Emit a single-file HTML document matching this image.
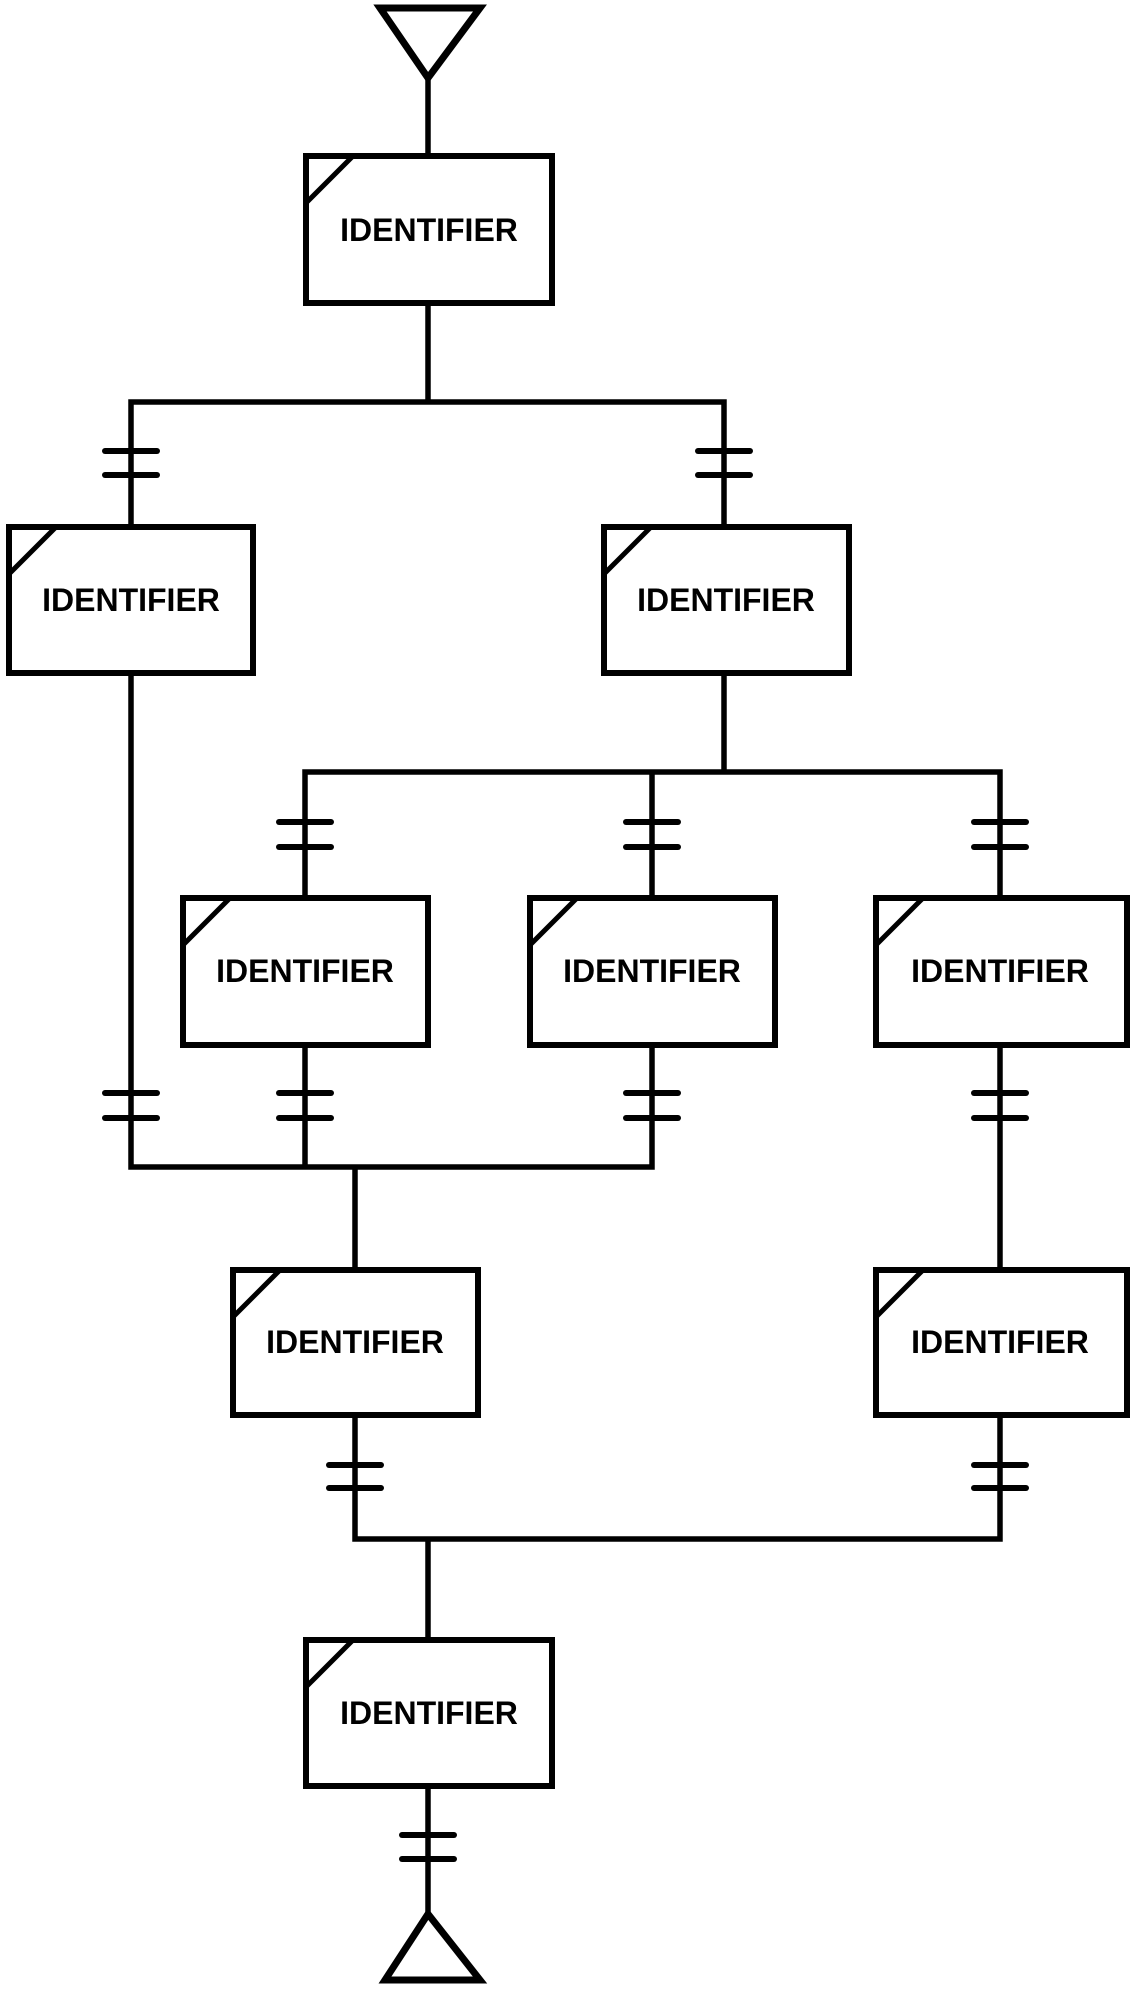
<!DOCTYPE html>
<html><head><meta charset="utf-8"><style>
html,body{margin:0;padding:0;background:#fff}
svg{display:block}
text{font-family:"Liberation Sans",Arial,sans-serif;font-weight:bold;font-size:32px;text-anchor:middle}
</style></head><body>
<svg width="1133" height="1990" viewBox="0 0 1133 1990" xmlns="http://www.w3.org/2000/svg">
<g fill="none" stroke="#000" stroke-width="5.5">
<polygon points="380,8 480,8 428,78" stroke-width="7"/>
<polygon points="385,1980 480,1980 428,1914" stroke-width="7"/>
<line x1="428" y1="78" x2="428" y2="156"/>
<line x1="428" y1="303" x2="428" y2="402"/>
<polyline points="131,525 131,402 724,402 724,525"/>
<polyline points="131,673 131,1167 652,1167 652,1045"/>
<line x1="305" y1="1045" x2="305" y2="1167"/>
<line x1="355" y1="1167" x2="355" y2="1267"/>
<line x1="724" y1="673" x2="724" y2="772"/>
<polyline points="305,895 305,772 1000,772 1000,895"/>
<line x1="652" y1="772" x2="652" y2="895"/>
<line x1="1000" y1="1045" x2="1000" y2="1267"/>
<polyline points="355,1415 355,1539 1000,1539 1000,1415"/>
<line x1="428" y1="1539" x2="428" y2="1637"/>
<line x1="428" y1="1786" x2="428" y2="1914"/>
</g>
<g stroke="#000" stroke-width="6" stroke-linecap="round">
<line x1="105" y1="451" x2="157" y2="451"/><line x1="105" y1="475" x2="157" y2="475"/>
<line x1="698" y1="451" x2="750" y2="451"/><line x1="698" y1="475" x2="750" y2="475"/>
<line x1="279" y1="822" x2="331" y2="822"/><line x1="279" y1="847" x2="331" y2="847"/>
<line x1="626" y1="822" x2="678" y2="822"/><line x1="626" y1="847" x2="678" y2="847"/>
<line x1="974" y1="822" x2="1026" y2="822"/><line x1="974" y1="847" x2="1026" y2="847"/>
<line x1="105" y1="1093" x2="157" y2="1093"/><line x1="105" y1="1118" x2="157" y2="1118"/>
<line x1="279" y1="1093" x2="331" y2="1093"/><line x1="279" y1="1118" x2="331" y2="1118"/>
<line x1="626" y1="1093" x2="678" y2="1093"/><line x1="626" y1="1118" x2="678" y2="1118"/>
<line x1="974" y1="1093" x2="1026" y2="1093"/><line x1="974" y1="1118" x2="1026" y2="1118"/>
<line x1="329" y1="1465" x2="381" y2="1465"/><line x1="329" y1="1488" x2="381" y2="1488"/>
<line x1="974" y1="1465" x2="1026" y2="1465"/><line x1="974" y1="1488" x2="1026" y2="1488"/>
<line x1="402" y1="1835" x2="454" y2="1835"/><line x1="402" y1="1859" x2="454" y2="1859"/>
</g>
<g fill="#fff" stroke="#000" stroke-width="6">
<rect x="306" y="156" width="246" height="147"/>
<rect x="9" y="527" width="244" height="146"/>
<rect x="604" y="527" width="245" height="146"/>
<rect x="183" y="898" width="245" height="147"/>
<rect x="530" y="898" width="245" height="147"/>
<rect x="876" y="898" width="251" height="147"/>
<rect x="233" y="1270" width="245" height="145"/>
<rect x="876" y="1270" width="251" height="145"/>
<rect x="306" y="1640" width="246" height="146"/>
</g>
<g stroke="#000" stroke-width="5">
<line x1="306" y1="203" x2="353" y2="156"/>
<line x1="9" y1="574" x2="56" y2="527"/>
<line x1="604" y1="574" x2="651" y2="527"/>
<line x1="183" y1="945" x2="230" y2="898"/>
<line x1="530" y1="945" x2="577" y2="898"/>
<line x1="876" y1="945" x2="923" y2="898"/>
<line x1="233" y1="1317" x2="280" y2="1270"/>
<line x1="876" y1="1317" x2="923" y2="1270"/>
<line x1="306" y1="1687" x2="353" y2="1640"/>
</g>
<text x="429" y="241">IDENTIFIER</text>
<text x="131" y="611">IDENTIFIER</text>
<text x="726" y="611">IDENTIFIER</text>
<text x="305" y="982">IDENTIFIER</text>
<text x="652" y="982">IDENTIFIER</text>
<text x="1000" y="982">IDENTIFIER</text>
<text x="355" y="1353">IDENTIFIER</text>
<text x="1000" y="1353">IDENTIFIER</text>
<text x="429" y="1724">IDENTIFIER</text>
</svg>
</body></html>
